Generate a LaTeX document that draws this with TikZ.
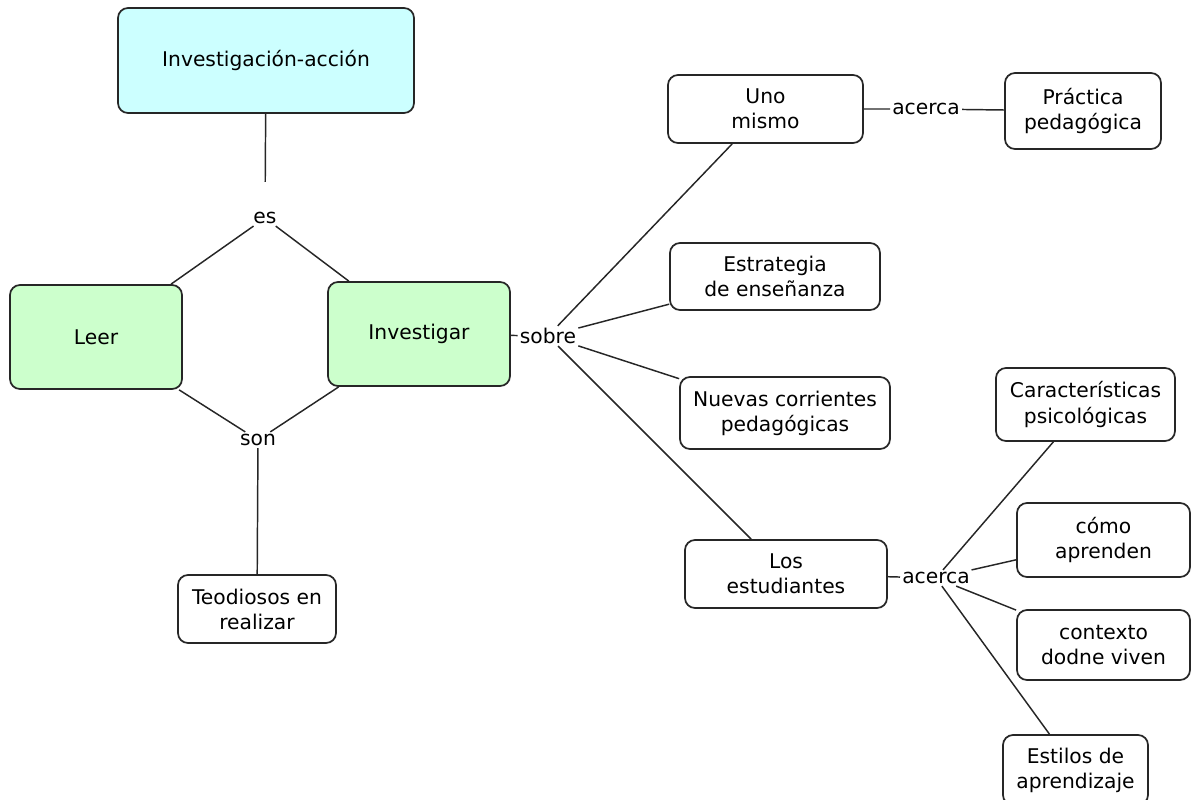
\documentclass[tikz,border=0pt]{standalone}
\usepackage{fontspec}
\setmainfont{DejaVu Sans}
\usetikzlibrary{positioning}
\definecolor{cielo}{RGB}{204,255,255}
\definecolor{verde}{RGB}{204,255,204}
\tikzset{every node/.append style={scale=1}}

\begin{document}
\begin{tikzpicture}[x=0.75pt,y=-0.75pt,
    font=\fontsize{15.2}{18.8}\selectfont,
    concepto/.style={draw=black!85,line width=1.3pt,rounded corners=7.5pt,align=center,inner sep=0pt},
    caja/.style 2 args={minimum width=#1*0.75pt,minimum height=#2*0.75pt},
    enlace/.style={inner sep=1.5pt},
    linea/.style={line width=1.1pt,draw=black!85}]
            \useasboundingbox (0,0) rectangle (1193,800);% page size
            % concepts
            \node[concepto,fill=cielo,caja={296}{105}] (ia) at (266,60.5) {Investigación-acción};
            \node[concepto,fill=verde,caja={172}{104}] (leer) at (96,337) {Leer};
            \node[concepto,fill=verde,caja={182}{104}] (investigar) at (419,334) {Investigar};
            \node[concepto,caja={158}{68}] (teodiosos) at (257,609) {Teodiosos en\\realizar};
            \node[concepto,caja={195}{68}] (uno) at (765.5,109) {Uno\\mismo};
            \node[concepto,caja={156}{76}] (practica) at (1083,111) {Práctica\\pedagógica};
            \node[concepto,caja={210}{67}] (estrategia) at (775,276.5) {Estrategia\\de enseñanza};
            \node[concepto,caja={210}{72}] (nuevas) at (785,413) {Nuevas corrientes\\pedagógicas};
            \node[concepto,caja={202}{68}] (estudiantes) at (786,574) {Los\\estudiantes};
            \node[concepto,caja={179}{73}] (caracteristicas) at (1085.5,404.5) {Características\\psicológicas};
            \node[concepto,caja={173}{74}] (como) at (1103.5,540) {cómo\\aprenden};
            \node[concepto,caja={173}{70}] (contexto) at (1103.5,645) {contexto\\dodne viven};
            \node[concepto,caja={145}{70}] (estilos) at (1075.5,770) {Estilos de\\aprendizaje};
            % linking words
            \node[enlace] (es) at (265,218) {es};
            \node[enlace] (son) at (258,440) {son};
            \node[enlace] (sobre) at (548,336) {sobre};
            \node[enlace] (acercaA) at (926,109) {acerca};
            \node[enlace] (acercaB) at (936,578) {acerca};
            % connectors
            \draw[linea,shorten >=21pt] (ia) -- (es);
            \draw[linea] (es) -- (leer);
            \draw[linea] (es) -- (investigar);
            \draw[linea] (son) -- (leer);
            \draw[linea] (son) -- (investigar);
            \draw[linea] (son) -- (teodiosos);
            \draw[linea] (investigar) -- (sobre);
            \draw[linea] (sobre) -- (uno);
            \draw[linea] (sobre) -- (estrategia);
            \draw[linea] (sobre) -- (nuevas);
            \draw[linea] (sobre) -- (estudiantes);
            \draw[linea] (uno) -- (acercaA) -- (practica);
            \draw[linea] (estudiantes) -- (acercaB);
            \draw[linea] (acercaB) -- (caracteristicas);
            \draw[linea] (acercaB) -- (como);
            \draw[linea] (acercaB) -- (contexto);
            \draw[linea] (acercaB) -- (estilos);
\end{tikzpicture}
\end{document}
